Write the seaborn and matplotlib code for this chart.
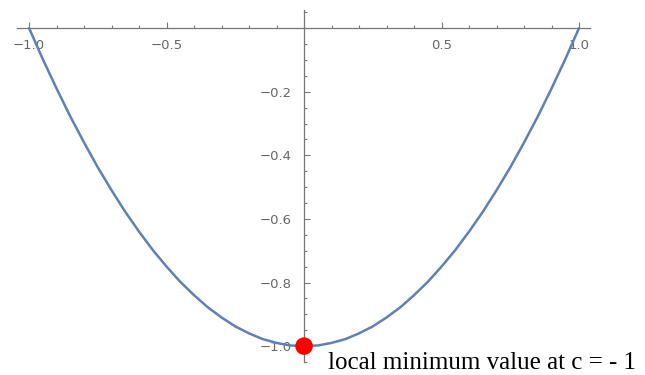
import matplotlib
matplotlib.use("Agg")
import matplotlib.pyplot as plt
import seaborn as sns
from matplotlib.ticker import MultipleLocator, FixedLocator

# curve values (y = c^2 - 1 shape)
x_vals = [-1.0, -0.95, -0.9, -0.85, -0.8, -0.75, -0.7, -0.65, -0.6, -0.55, -0.5,
          -0.45, -0.4, -0.35, -0.3, -0.25, -0.2, -0.15, -0.1, -0.05, 0.0,
          0.05, 0.1, 0.15, 0.2, 0.25, 0.3, 0.35, 0.4, 0.45, 0.5,
          0.55, 0.6, 0.65, 0.7, 0.75, 0.8, 0.85, 0.9, 0.95, 1.0]
y_vals = [0.0, -0.098, -0.19, -0.278, -0.36, -0.438, -0.51, -0.578, -0.64, -0.698, -0.75,
          -0.798, -0.84, -0.878, -0.91, -0.938, -0.96, -0.978, -0.99, -0.998, -1.0,
          -0.998, -0.99, -0.978, -0.96, -0.938, -0.91, -0.878, -0.84, -0.798, -0.75,
          -0.698, -0.64, -0.578, -0.51, -0.438, -0.36, -0.278, -0.19, -0.098, 0.0]

min_x = [0.0]
min_y = [-1.0]
label = "local minimum value at c = - 1"

x_ticks = [-1.0, -0.5, 0.5, 1.0]
x_labels = ["\u22121.0", "\u22120.5", "0.5", "1.0"]
y_ticks = [-0.2, -0.4, -0.6, -0.8, -1.0]
y_labels = ["\u22120.2", "\u22120.4", "\u22120.6", "\u22120.8", "\u22121.0"]

sns.set_style("white")
plt.rcParams['font.family'] = ['DejaVu Sans']

fig = plt.figure(figsize=(6.45, 3.75), dpi=100)
ax = fig.add_axes([17/645, 13/375, 573/645, 352/375])

sns.lineplot(x=x_vals, y=y_vals, ax=ax, color="#5E81B5", linewidth=1.8, sort=False)
sns.scatterplot(x=min_x, y=min_y, ax=ax, color="red", s=160, edgecolor="none", zorder=5)

ax.set_xlim(-1.044, 1.04)
ax.set_ylim(-1.05, 0.057)

ax.spines['left'].set_position(('data', 0))
ax.spines['bottom'].set_position(('data', 0))
ax.spines['top'].set_visible(False)
ax.spines['right'].set_visible(False)
for s in ['left', 'bottom']:
    ax.spines[s].set_color('#777777')
    ax.spines[s].set_linewidth(0.9)

ax.xaxis.set_major_locator(FixedLocator(x_ticks))
ax.set_xticklabels(x_labels)
ax.yaxis.set_major_locator(FixedLocator(y_ticks))
ax.set_yticklabels(y_labels)
ax.xaxis.set_minor_locator(MultipleLocator(0.1))
ax.yaxis.set_minor_locator(MultipleLocator(0.05))

ax.tick_params(which='both', direction='in', color='#777777', width=0.8,
               labelcolor='#666666', labelsize=9.5, bottom=True, left=True)
ax.tick_params(which='major', length=4)
ax.tick_params(axis='x', which='major', pad=8)
ax.tick_params(axis='y', which='major', pad=9)
ax.tick_params(which='minor', length=2.5)

fig.text(328/645, 1 - 369/375, label, fontsize=18, family='Liberation Serif',
         color='black', ha='left', va='baseline')

fig.savefig("out.png", dpi=100)
